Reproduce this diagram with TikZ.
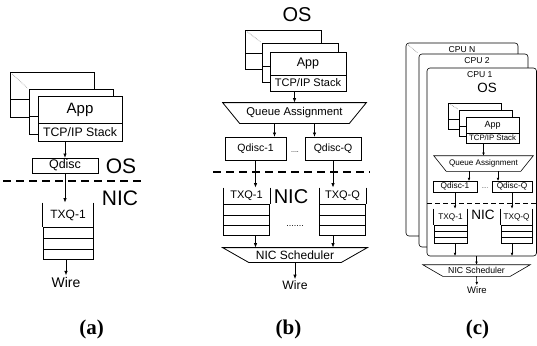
\documentclass[tikz,border=0pt]{standalone}
\usepackage{fontspec}
\setmainfont{Liberation Sans}
\newfontfamily\capfont{Liberation Serif}
\usepackage{tikz}
\usetikzlibrary{arrows.meta,positioning,matrix,calc}

\tikzset{
  box/.style 2 args={rectangle, draw, fill=white, inner sep=0pt, outer sep=0pt,
    minimum width=#1, minimum height=#2},
  plain/.style={inner sep=1pt},
  fs/.style={font=\fontsize{#1}{#1}\selectfont},
  divider/.style={line width=1.3pt, dash pattern=on 8pt off 5pt},
  hint/.style={gray, densely dotted, line width=0.6pt, shorten <=3pt, shorten >=2pt},
  queuecells/.style n args={3}{
    matrix of nodes, nodes in empty cells, inner sep=0pt, outer sep=0pt,
    row sep=-#3, anchor=north,
    nodes={rectangle, draw, fill=white, inner sep=0pt,
      minimum width=#1, minimum height=#2}
  },
  caption/.style={font=\capfont\bfseries\fontsize{21}{21}\selectfont}
}

\begin{document}
\begin{tikzpicture}[x=1pt, y=-1pt, line width=0.8pt,
  >={Latex[length=4.5pt, width=3.5pt]}]
  \useasboundingbox (0,0) rectangle (537,345);

  % (a) one queue
  \node[box={84pt}{27pt}] (appA3) at (52,85.5) {};
  \node[box={84pt}{18pt}, below=0pt of appA3] (tcpA3) {};
  \node[box={84pt}{27pt}] (appA2) at (71,103) {};
  \node[box={84pt}{18pt}, below=0pt of appA2] (tcpA2) {};
  \node[box={84pt}{27pt}, fs=15] (appA1) at (80,109.5) {App};
  \node[box={84pt}{18pt}, fs=12.3, below=0pt of appA1] (tcpA1) {TCP/IP Stack};
  \draw[hint] (appA3.north west) -- (appA2.north west);

  \node[box={66pt}{15pt}, fs=12.5] (qdiscA) at (65,165.5) {Qdisc};
  \draw[->] (tcpA1.south -| qdiscA.north) -- (qdiscA.north);
  \node[plain, fs=21] (osA) at (121,166) {OS};
  \coordinate (sepA1) at (3,181);
  \coordinate (sepA2) at (143,181);
  \draw[divider] (sepA1) -- (sepA2);
  \node[plain, fs=21] (nicA) at (120,198) {NIC};

  \node[plain, minimum width=50pt, minimum height=24pt, fs=12] (txqA) at (68,215) {TXQ-1};
  \draw (txqA.north west) -- (txqA.south west) (txqA.north east) -- (txqA.south east);
  \matrix[queuecells={50pt}{10.67pt}{0.8pt}] (cellsA) at (txqA.south) { \\ \\ \\ };
  \draw[->] (qdiscA) -- (qdiscA |- txqA.north);
  \node[plain, fs=14] (wireA) at (66,282) {Wire};
  \draw[->] (cellsA.south -| wireA) -- (wireA);

  % (b) multi queue
  \node[plain, fs=20] (osB) at (297,15) {OS};
  \node[box={76pt}{23pt}] (appB3) at (283,41.5) {};
  \node[box={76pt}{16pt}, below=0pt of appB3] (tcpB3) {};
  \node[box={76pt}{23pt}] (appB2) at (300,54.5) {};
  \node[box={76pt}{16pt}, below=0pt of appB2] (tcpB2) {};
  \node[box={76pt}{23pt}, fs=12.5] (appB1) at (308,63.5) {App};
  \node[box={76pt}{16pt}, fs=11, below=0pt of appB1] (tcpB1) {TCP/IP Stack};
  \draw[hint] (appB3.north west) -- (appB2.north west);

  \node[plain, minimum width=143pt, minimum height=20pt, fs=11.3] (qaB) at (294.5,113) {Queue Assignment};
  \draw (qaB.north west) -- (qaB.north east) -- ([xshift=-17pt]qaB.south east)
    -- ([xshift=17pt]qaB.south west) -- cycle;
  \draw[->] (tcpB1.south -| qaB.north) -- (qaB.north);

  \node[box={61pt}{23pt}, fs=10.5] (qdiscB1) at (255.5,148.5) {Qdisc-1};
  \node[box={56pt}{23pt}, fs=10.5] (qdiscB2) at (333,148.5) {Qdisc-Q};
  \node[plain, fs=7] (dotsB1) at (295,152) {....};
  \coordinate (qaB1) at ([xshift=-20pt]qaB.south);
  \coordinate (qaB2) at ([xshift=20pt]qaB.south);
  \draw[->] (qaB1) -- (qaB1 |- qdiscB1.north);
  \draw[->] (qaB2) -- (qaB2 |- qdiscB2.north);

  \coordinate (sepB1) at (213,172);
  \coordinate (sepB2) at (370,172);
  \draw[divider] (sepB1) -- (sepB2);

  \node[plain, minimum width=46pt, minimum height=16pt, fs=11] (txqB1) at (246.5,196) {TXQ-1};
  \node[plain, minimum width=46pt, minimum height=16pt, fs=11] (txqB2) at (342.5,196) {TXQ-Q};
  \draw (txqB1.north west) -- (txqB1.south west) (txqB1.north east) -- (txqB1.south east);
  \draw (txqB2.north west) -- (txqB2.south west) (txqB2.north east) -- (txqB2.south east);
  \matrix[queuecells={46pt}{10.33pt}{0.8pt}] (cellsB1) at (txqB1.south) { \\ \\ \\ };
  \matrix[queuecells={46pt}{10.33pt}{0.8pt}] (cellsB2) at (txqB2.south) { \\ \\ \\ };
  \draw[->] (qdiscB1) -- (qdiscB1 |- txqB1.north);
  \draw[->] (qdiscB2) -- (qdiscB2 |- txqB2.north);
  \node[plain, fs=20] (nicB) at (291,197) {NIC};
  \node[plain, fs=9] (dotsB2) at (295,226) {.......};

  \node[plain, minimum width=144pt, minimum height=14pt, fs=12] (schedB) at (295,255) {NIC Scheduler};
  \draw (schedB.north west) -- (schedB.north east) -- ([xshift=-26pt]schedB.south east)
    -- ([xshift=26pt]schedB.south west) -- cycle;
  \draw[->] (cellsB1.south -| qdiscB1) -- (schedB.north -| qdiscB1);
  \draw[->] (cellsB2.south -| qdiscB2) -- (schedB.north -| qdiscB2);
  \node[plain, fs=12.2] (wireB) at (295,285) {Wire};
  \draw[->] (schedB.south) -- (wireB);

  % (c) one stack per CPU
  \begin{scope}[line width=0.6pt, >={Latex[length=3.2pt, width=2.8pt]}]
  \node[box={112pt}{193pt}, rounded corners=3pt] (cpuN) at (462,139.5) {};
  \node[plain, fs=8.6, below=2.5pt of cpuN.north] (cpuNlab) {CPU N};
  \node[box={109pt}{193pt}, rounded corners=3pt] (cpu2) at (473.5,150.5) {};
  \node[plain, fs=8.6, below=2.5pt of cpu2.north, xshift=3.5pt] (cpu2lab) {CPU 2};
  \node[box={109.5pt}{188pt}, rounded corners=3pt] (cpu1) at (481.75,162) {};
  \node[plain, fs=8.6, below=2.5pt of cpu1.north, xshift=-2pt] (cpu1lab) {CPU 1};
  \draw[hint] (cpuN.north west) -- (cpu2.north west);

  \node[plain, fs=13.4] (osC) at (487,88) {OS};
  \node[box={53pt}{16pt}] (appC3) at (474.5,111) {};
  \node[box={53pt}{10pt}, below=0pt of appC3] (tcpC3) {};
  \node[box={53pt}{16pt}] (appC2) at (486,118) {};
  \node[box={53pt}{10pt}, below=0pt of appC2] (tcpC2) {};
  \node[box={53pt}{16pt}, fs=9] (appC1) at (492.5,125) {App};
  \node[box={53pt}{10pt}, fs=7.8, below=0pt of appC1] (tcpC1) {TCP/IP Stack};
  \draw[hint] (appC3.north west) -- (appC2.north west);

  \node[plain, minimum width=99pt, minimum height=15pt, fs=8.1] (qaC) at (483.5,163.5) {Queue Assignment};
  \draw (qaC.north west) -- (qaC.north east) -- ([xshift=-12.5pt]qaC.south east)
    -- ([xshift=12.5pt]qaC.south west) -- cycle;
  \draw[->] (tcpC1.south -| qaC.north) -- (qaC.north);

  \node[box={44pt}{11pt}, fs=8.3] (qdiscC1) at (455,186.5) {Qdisc-1};
  \node[box={40pt}{11pt}, fs=8.3] (qdiscC2) at (512,186.5) {Qdisc-Q};
  \node[plain, fs=5.5] (dotsC) at (485,188) {....};
  \coordinate (qaC1) at ([xshift=-14.5pt]qaC.south);
  \coordinate (qaC2) at ([xshift=14.5pt]qaC.south);
  \draw[->] (qaC1) -- (qaC1 |- qdiscC1.north);
  \draw[->] (qaC2) -- (qaC2 |- qdiscC2.north);

  \coordinate (sepC1) at (427,203);
  \coordinate (sepC2) at (536.5,203);
  \draw[divider, line width=1pt, dash pattern=on 5pt off 3pt] (sepC1) -- (sepC2);

  \node[plain, minimum width=33pt, minimum height=16pt, fs=8.2] (txqC1) at (450.5,217) {TXQ-1};
  \node[plain, minimum width=31pt, minimum height=16pt, fs=8.2] (txqC2) at (516.5,217) {TXQ-Q};
  \draw (txqC1.north west) -- (txqC1.south west) (txqC1.north east) -- (txqC1.south east);
  \draw (txqC2.north west) -- (txqC2.south west) (txqC2.north east) -- (txqC2.south east);
  \matrix[queuecells={33pt}{6pt}{0.6pt}] (cellsC1) at (txqC1.south) { \\ \\ \\ };
  \matrix[queuecells={31pt}{6pt}{0.6pt}] (cellsC2) at (txqC2.south) { \\ \\ \\ };
  \draw[->] (qdiscC1) -- (qdiscC1 |- txqC1.north);
  \draw[->] (qdiscC2) -- (qdiscC2 |- txqC2.north);
  \node[plain, fs=13.5] (nicC) at (483,215) {NIC};
  \draw[->] (cellsC1.south -| qdiscC1) -- (cpu1.south -| qdiscC1);
  \draw[->] (cellsC2.south -| qdiscC2) -- (cpu1.south -| qdiscC2);

  \node[plain, minimum width=107pt, minimum height=11pt, fs=8.7] (schedC) at (476.5,270.5) {NIC Scheduler};
  \draw (schedC.north west) -- (schedC.north east) -- ([xshift=-20pt]schedC.south east)
    -- ([xshift=20pt]schedC.south west) -- cycle;
  \draw[->] (cpu1.south -| schedC.north) -- (schedC.north);
  \node[plain, fs=9.5] (wireC) at (477,290) {Wire};
  \draw[->] (schedC.south) -- (wireC);
  \end{scope}

  % captions
  \node[caption] (capA) at (91.5,329) {(a)};
  \node[caption] (capB) at (288.5,329) {(b)};
  \node[caption] (capC) at (477.5,329) {(c)};
\end{tikzpicture}
\end{document}
